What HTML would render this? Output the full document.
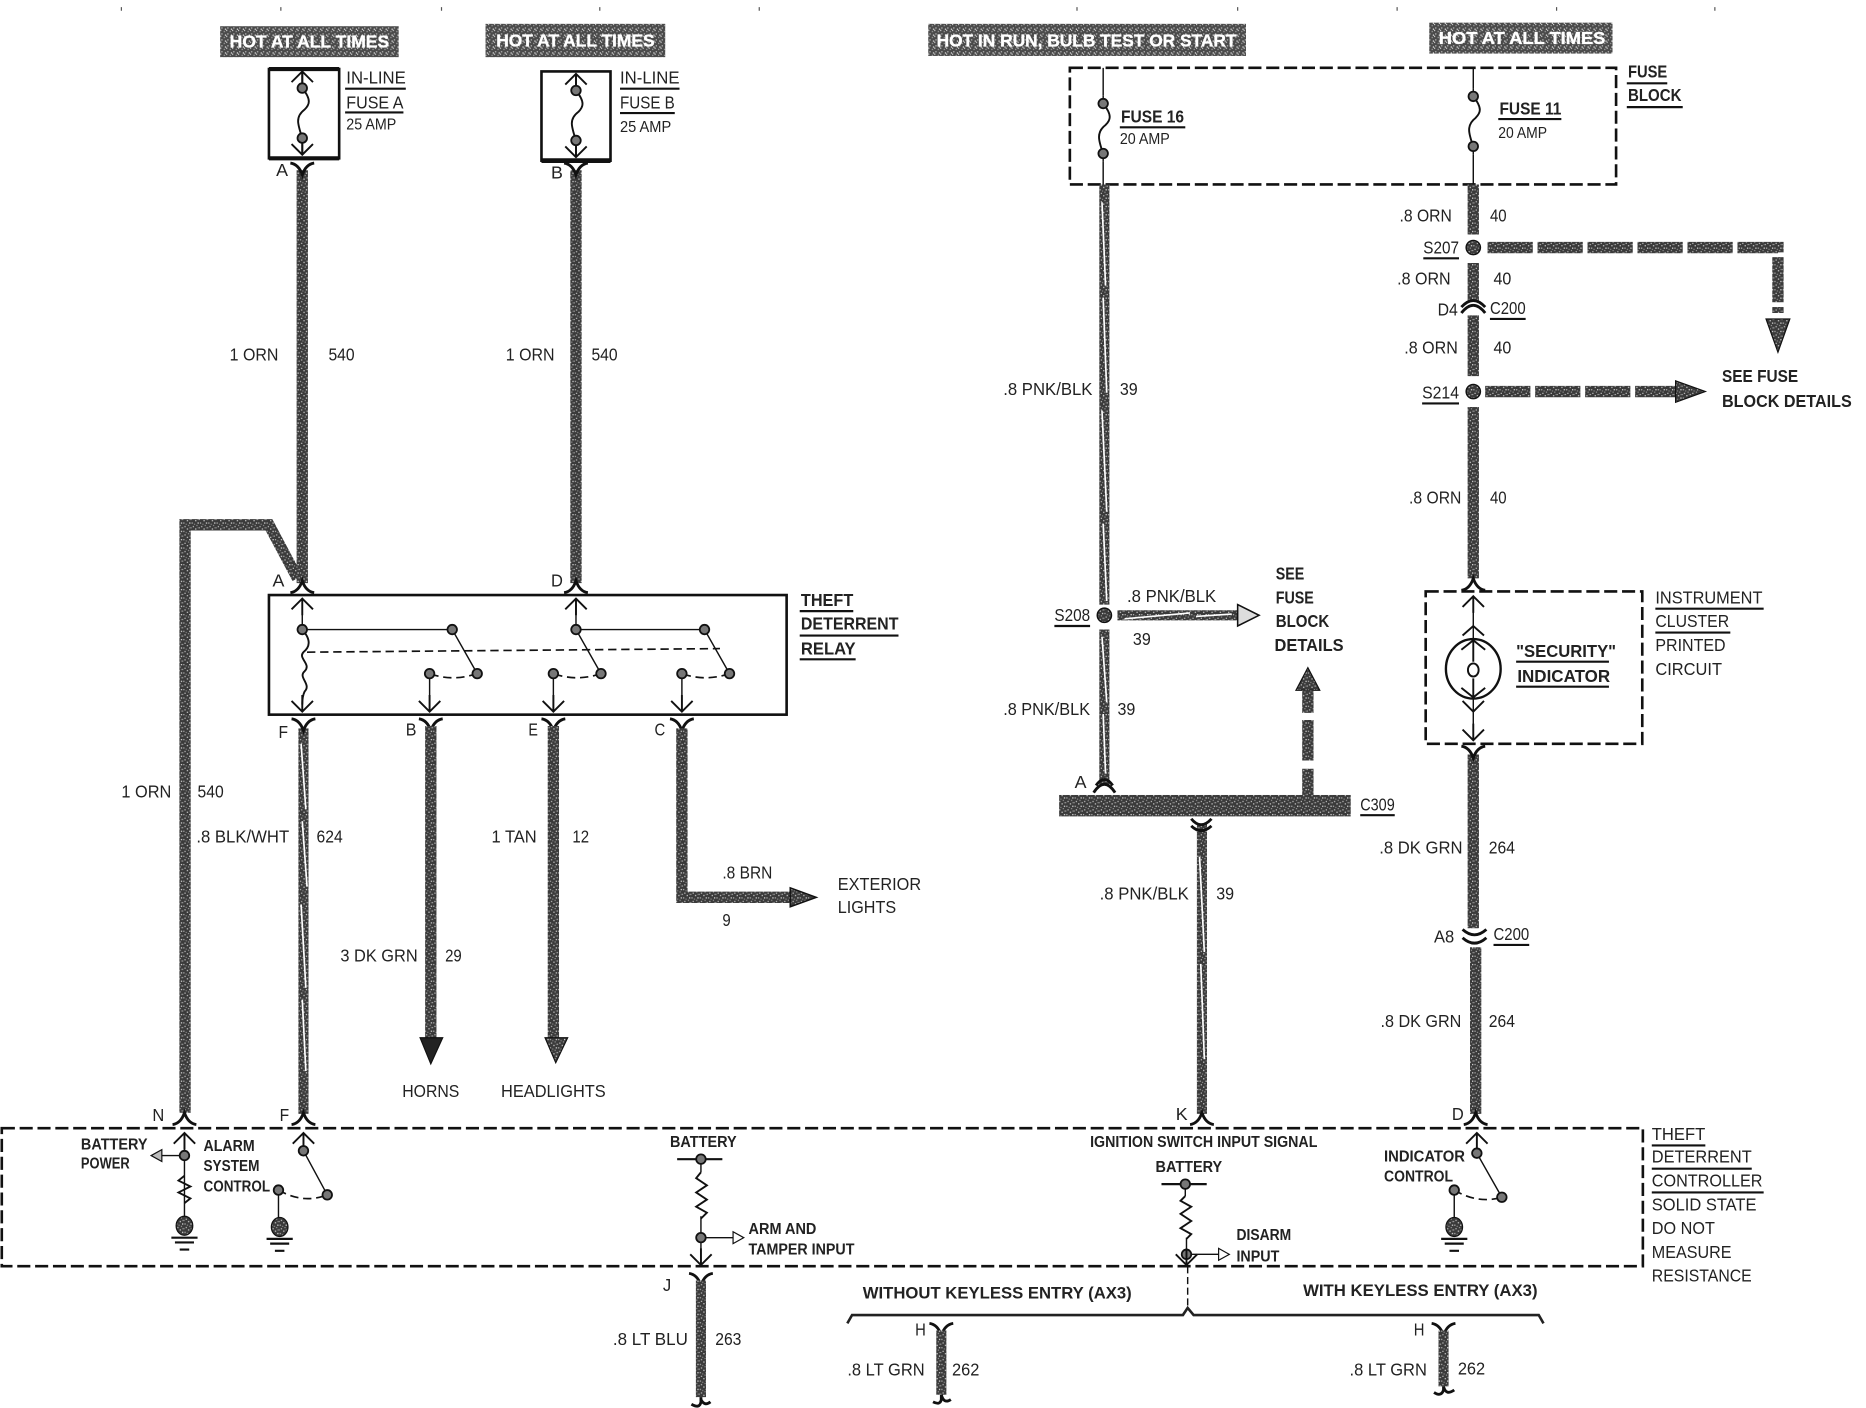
<!DOCTYPE html>
<html><head><meta charset="utf-8"><title>Theft deterrent wiring diagram</title>
<style>
html,body{margin:0;padding:0;background:#fff;width:1866px;height:1408px;overflow:hidden}
svg{display:block}
text{font-family:"Liberation Sans",sans-serif;font-size:15px;fill:#222}
.s{font-size:13px}
.b{font-weight:bold}
.h{font-weight:bold;fill:#fff;font-size:15px;stroke:#fff;stroke-width:.3px}
.w{fill:none;stroke:url(#n);stroke-width:9.500}
.sw{fill:none;stroke:url(#n);stroke-width:8.500}
.wh{fill:none;stroke:#fff;stroke-width:1.400}
.l{fill:none;stroke:#111;stroke-width:1.200}
.u{fill:none;stroke:#111;stroke-width:1.800}
.box{fill:none;stroke:#111;stroke-width:2.200}
.d{fill:none;stroke:#111;stroke-width:2.200;stroke-dasharray:11 4}
.dt{fill:none;stroke:#111;stroke-width:1.400;stroke-dasharray:7 4}
.c{fill:none;stroke:#111;stroke-width:2.400}
.a{fill:none;stroke:#111;stroke-width:1.600}
</style></head><body>
<svg xmlns="http://www.w3.org/2000/svg" width="1866" height="1408" viewBox="0 0 1568 1183.1">
<defs>
<pattern id="n" width="7" height="7" patternUnits="userSpaceOnUse">
<rect width="7" height="7" fill="#3a3a3a"/>
<rect x="1" y="1" width="1" height="1" fill="#ccc"/><rect x="4" y="0" width="1" height="1" fill="#999"/>
<rect x="3" y="3" width="1" height="1" fill="#ddd"/><rect x="6" y="2" width="1" height="1" fill="#aaa"/>
<rect x="0" y="5" width="1" height="1" fill="#bbb"/><rect x="5" y="5" width="1" height="1" fill="#eee"/>
<rect x="2" y="6" width="1" height="1" fill="#888"/><rect x="5" y="2" width="1" height="1" fill="#777"/>
</pattern>
<pattern id="hd" width="5" height="5" patternUnits="userSpaceOnUse">
<rect width="5" height="5" fill="#4a4a4a"/>
<rect x="0" y="0" width="1" height="1" fill="#ddd"/><rect x="3" y="1" width="1" height="1" fill="#aaa"/>
<rect x="1" y="3" width="1" height="1" fill="#ccc"/><rect x="4" y="4" width="1" height="1" fill="#eee"/>
</pattern>
<g id="node"><circle r="4" fill="#777" stroke="#111" stroke-width="1.500"/></g>
<g id="splice"><circle r="6" fill="url(#n)" stroke="#111" stroke-width="1.200"/></g>
<path id="yt" class="c" d="M-10,-6 Q-3,-5 0,4 Q3,-5 10,-6"/>
<path id="yb" class="c" d="M-10,6 Q-3,5 0,-4 Q3,5 10,6"/>
<path id="au" class="a" d="M-9,9 L0,0 L9,9 M0,0 V14"/>
<path id="ad" class="a" d="M-9,-9 L0,0 L9,-9 M0,0 V-14"/>
<g id="gnd"><ellipse cx="0" cy="0" rx="7" ry="8" fill="url(#n)" stroke="#111"/><path class="u" d="M-11,10 H11 M-8,14 H8 M-4,20 H4"/></g>
</defs>

<!-- registration ticks -->
<path fill="none" stroke="#555" stroke-width="1" d="M102,6V9M236,6V9M371,6V9M504,6V9M638,6V9M905,6V9M1040,6V9M1174,6V9M1308,6V9M1441,6V9"/>

<!-- header tags -->
<rect x="185" y="22" width="150" height="26" fill="url(#hd)"/>
<rect x="408" y="20" width="151" height="28" fill="url(#hd)"/>
<rect x="780" y="20" width="267" height="27" fill="url(#hd)"/>
<rect x="1201" y="19" width="154" height="26" fill="url(#hd)"/>
<text class="h" x="193" y="40" textLength="134" lengthAdjust="spacingAndGlyphs">HOT AT ALL TIMES</text>
<text class="h" x="417" y="39" textLength="133" lengthAdjust="spacingAndGlyphs">HOT AT ALL TIMES</text>
<text class="h" x="787" y="39" textLength="252" lengthAdjust="spacingAndGlyphs">HOT IN RUN, BULB TEST OR START</text>
<text class="h" x="1209" y="37" textLength="140" lengthAdjust="spacingAndGlyphs">HOT AT ALL TIMES</text>

<!-- inline fuses -->
<rect class="box" x="226" y="58" width="59" height="75"/><path d="M226,58H285M226,133H285" stroke="#111" stroke-width="3.400"/>
<rect class="box" x="455" y="60" width="58" height="75"/><path d="M455,135H513" stroke="#111" stroke-width="4"/>
<use href="#au" x="254" y="60"/><use href="#ad" x="254" y="130"/>
<use href="#au" x="484" y="62"/><use href="#ad" x="484" y="132"/>
<path class="a" d="M254,60V74C262,84 260,88 256,92C248,98 250,104 254,116V130"/>
<path class="a" d="M484,62V76C492,86 490,90 486,94C478,100 480,106 484,118V132"/>
<use href="#node" x="254" y="74"/><use href="#node" x="254" y="116"/>
<use href="#node" x="484" y="76"/><use href="#node" x="484" y="118"/>

<text x="291" y="70" textLength="50" lengthAdjust="spacingAndGlyphs">IN-LINE</text><path class="u" d="M290,74.500H341"/>
<text x="291" y="91" textLength="48" lengthAdjust="spacingAndGlyphs">FUSE A</text><path class="u" d="M290,94.500H339"/>
<text class="s" x="291" y="109" textLength="42" lengthAdjust="spacingAndGlyphs">25 AMP</text>
<text x="521" y="70" textLength="50" lengthAdjust="spacingAndGlyphs">IN-LINE</text><path class="u" d="M521,74.500H571"/>
<text x="521" y="91" textLength="46" lengthAdjust="spacingAndGlyphs">FUSE B</text><path class="u" d="M521,95H567"/>
<text class="s" x="521" y="111" textLength="43" lengthAdjust="spacingAndGlyphs">25 AMP</text>

<!-- main feeds -->
<path class="w" d="M254,143V490M484,143V490"/>
<use href="#yt" x="254" y="143"/><use href="#yt" x="484" y="143"/>
<path class="w" d="M250,486L226,441H155.500V935"/>
<use href="#yb" x="254" y="492"/><use href="#yb" x="484" y="492"/>
<text x="232" y="148" textLength="10" lengthAdjust="spacingAndGlyphs">A</text>
<text x="463" y="150" textLength="10" lengthAdjust="spacingAndGlyphs">B</text>
<text x="193" y="303" textLength="41" lengthAdjust="spacingAndGlyphs">1 ORN</text><text x="276" y="303" textLength="22" lengthAdjust="spacingAndGlyphs">540</text>
<text x="425" y="303" textLength="41" lengthAdjust="spacingAndGlyphs">1 ORN</text><text x="497" y="303" textLength="22" lengthAdjust="spacingAndGlyphs">540</text>
<text x="229" y="493" textLength="10" lengthAdjust="spacingAndGlyphs">A</text>
<text x="463" y="493" textLength="10" lengthAdjust="spacingAndGlyphs">D</text>

<!-- relay -->
<rect class="box" x="226" y="500" width="435" height="100.500"/>
<use href="#au" x="254" y="503"/><use href="#au" x="484" y="503"/>
<path class="l" d="M254,503V529H380L401,566M484,503V529H592L613,566M484,529L505,566"/>
<path class="a" d="M254,529C262,538 260,544 255,548C250,553 262,558 256,564C250,569 262,575 256,581C254,585 254,590 254,592"/>
<path class="dt" stroke-width="2" d="M258,548L605,545"/>
<path class="dt" d="M401,566Q380,573 361,566M505,566Q485,573 465,566M613,566Q593,573 573,566"/>
<path class="l" d="M361,566V598M465,566V598M573,566V598"/>
<use href="#node" x="254" y="529"/><use href="#node" x="380" y="529"/><use href="#node" x="484" y="529"/><use href="#node" x="592" y="529"/>
<use href="#node" x="401" y="566"/><use href="#node" x="361" y="566"/><use href="#node" x="505" y="566"/><use href="#node" x="465" y="566"/><use href="#node" x="613" y="566"/><use href="#node" x="573" y="566"/>
<use href="#ad" x="254" y="598"/><use href="#ad" x="361" y="598"/><use href="#ad" x="465" y="598"/><use href="#ad" x="573" y="598"/>
<text class="b" x="673" y="509" textLength="44" lengthAdjust="spacingAndGlyphs">THEFT</text><path class="u" d="M672,513.500H717"/>
<text class="b" x="673" y="529" textLength="82" lengthAdjust="spacingAndGlyphs">DETERRENT</text><path class="u" d="M672,534H755"/>
<text class="b" x="673" y="550" textLength="46" lengthAdjust="spacingAndGlyphs">RELAY</text><path class="u" d="M672,554H719"/>

<!-- relay outputs -->
<path class="sw" d="M255,612V936"/>
<path class="wh" d="M253,625L257,680M254,690L258,745M253,760L257,830M254,840L257,900"/>
<use href="#yt" x="255" y="610"/><use href="#yt" x="362" y="610"/><use href="#yt" x="465" y="610"/><use href="#yt" x="573" y="610"/>
<path class="w" d="M362,610V874M465,610V874"/>
<path d="M353,872H372L362,894Z" fill="#222" stroke="#111"/>
<path d="M458,872H477L467,893Z" fill="url(#n)" stroke="#111"/>
<path class="w" d="M573,612V754H664"/>
<path d="M664,746L686,754L664,762Z" fill="url(#n)" stroke="#111" stroke-width="1.200"/>
<text x="234" y="620" textLength="8" lengthAdjust="spacingAndGlyphs">F</text>
<text x="341" y="618" textLength="9" lengthAdjust="spacingAndGlyphs">B</text>
<text x="444" y="618" textLength="8" lengthAdjust="spacingAndGlyphs">E</text>
<text x="550" y="618" textLength="9" lengthAdjust="spacingAndGlyphs">C</text>
<text x="102" y="670" textLength="42" lengthAdjust="spacingAndGlyphs">1 ORN</text><text x="166" y="670" textLength="22" lengthAdjust="spacingAndGlyphs">540</text>
<text x="165" y="708" textLength="78" lengthAdjust="spacingAndGlyphs">.8 BLK/WHT</text><text x="266" y="708" textLength="22" lengthAdjust="spacingAndGlyphs">624</text>
<text x="286" y="808" textLength="65" lengthAdjust="spacingAndGlyphs">3 DK GRN</text><text x="374" y="808" textLength="14" lengthAdjust="spacingAndGlyphs">29</text>
<text x="413" y="708" textLength="38" lengthAdjust="spacingAndGlyphs">1 TAN</text><text x="481" y="708" textLength="14" lengthAdjust="spacingAndGlyphs">12</text>
<text x="607" y="738" textLength="42" lengthAdjust="spacingAndGlyphs">.8 BRN</text><text x="607" y="778" textLength="7" lengthAdjust="spacingAndGlyphs">9</text>
<text x="704" y="748" textLength="70" lengthAdjust="spacingAndGlyphs">EXTERIOR</text><text x="704" y="767" textLength="49" lengthAdjust="spacingAndGlyphs">LIGHTS</text>
<text x="338" y="922" textLength="48" lengthAdjust="spacingAndGlyphs">HORNS</text>
<text x="421" y="922" textLength="88" lengthAdjust="spacingAndGlyphs">HEADLIGHTS</text>

<!-- fuse block -->
<rect class="d" x="899" y="57" width="459" height="98"/>
<path class="l" d="M927,57V155M1238,57V155"/>
<path d="M920,80H934V136H920ZM1231,74H1245V130H1231Z" fill="#fff"/>
<path class="a" d="M927,87C935,97 933,101 929,105C921,111 923,118 927,129"/>
<path class="a" d="M1238,81C1246,91 1244,95 1240,99C1232,105 1234,112 1238,123"/>
<path class="l" d="M927,80V87M927,129V136M1238,74V81M1238,123V130"/>
<use href="#node" x="927" y="87"/><use href="#node" x="927" y="129"/><use href="#node" x="1238" y="81"/><use href="#node" x="1238" y="123"/>
<text class="b" x="942" y="103" textLength="53" lengthAdjust="spacingAndGlyphs">FUSE 16</text><path class="u" d="M941,107H996"/>
<text class="s" x="941" y="121" textLength="42" lengthAdjust="spacingAndGlyphs">20 AMP</text>
<text class="b" x="1260" y="96" textLength="52" lengthAdjust="spacingAndGlyphs">FUSE 11</text><path class="u" d="M1259,100H1312"/>
<text class="s" x="1259" y="116" textLength="41" lengthAdjust="spacingAndGlyphs">20 AMP</text>
<text class="b" x="1368" y="65" textLength="33" lengthAdjust="spacingAndGlyphs">FUSE</text><path class="u" d="M1367,70H1401"/>
<text class="b" x="1368" y="85" textLength="45" lengthAdjust="spacingAndGlyphs">BLOCK</text><path class="u" d="M1367,90H1414"/>

<!-- PNK/BLK feed -->
<path class="sw" d="M928,155V508M928,529V660"/>
<path class="wh" d="M926,170L929,240M927,250L930,330M926,345L930,430M927,440L930,505M926,535L930,590M927,600L929,650"/>
<use href="#splice" x="928" y="517"/>
<text x="843" y="332" textLength="75" lengthAdjust="spacingAndGlyphs">.8 PNK/BLK</text><text x="941" y="332" textLength="15" lengthAdjust="spacingAndGlyphs">39</text>
<text x="886" y="522" textLength="30" lengthAdjust="spacingAndGlyphs">S208</text><path class="u" d="M886,526H916"/>
<text x="947" y="506" textLength="75" lengthAdjust="spacingAndGlyphs">.8 PNK/BLK</text><text x="952" y="542" textLength="15" lengthAdjust="spacingAndGlyphs">39</text>
<path class="sw" d="M939,517H1040"/><path class="wh" d="M945,520L1000,515M1005,518L1035,516"/>
<path d="M1040,508L1058,517L1040,526Z" fill="#ddd" stroke="#111" stroke-width="1.300"/>
<text class="b" x="1072" y="487" textLength="24" lengthAdjust="spacingAndGlyphs">SEE</text>
<text class="b" x="1072" y="507" textLength="32" lengthAdjust="spacingAndGlyphs">FUSE</text>
<text class="b" x="1072" y="527" textLength="45" lengthAdjust="spacingAndGlyphs">BLOCK</text>
<text class="b" x="1071" y="547" textLength="58" lengthAdjust="spacingAndGlyphs">DETAILS</text>
<text x="843" y="601" textLength="73" lengthAdjust="spacingAndGlyphs">.8 PNK/BLK</text><text x="939" y="601" textLength="15" lengthAdjust="spacingAndGlyphs">39</text>
<path d="M1099,561L1109,580H1089Z" fill="url(#n)" stroke="#111"/>
<path class="w" d="M1099,580V599M1099,605V639M1099,646V668"/>
<rect x="890" y="668" width="245" height="18" fill="url(#n)"/>
<path class="c" d="M919,666Q928,652 937,666M921,660Q928,650 935,660"/>
<text x="903" y="662" textLength="10" lengthAdjust="spacingAndGlyphs">A</text>
<text x="1143" y="681" textLength="29" lengthAdjust="spacingAndGlyphs">C309</text><path class="u" d="M1143,685H1172"/>
<path class="sw" d="M1010,692V936"/>
<path class="wh" d="M1008,720L1012,800M1009,810L1012,890"/>
<path class="c" d="M1001,688Q1009,698 1018,688M1001,694Q1009,702 1018,694"/>
<use href="#yb" x="1010" y="939"/>
<text x="988" y="941" textLength="10" lengthAdjust="spacingAndGlyphs">K</text>
<text x="924" y="756" textLength="75" lengthAdjust="spacingAndGlyphs">.8 PNK/BLK</text><text x="1022" y="756" textLength="15" lengthAdjust="spacingAndGlyphs">39</text>

<!-- ORN feed -->
<path class="w" d="M1238,155V197M1238,221V253M1238,265V316M1238,342V486"/>
<use href="#splice" x="1238" y="208"/><use href="#splice" x="1238" y="329"/>
<path class="c" d="M1228,263Q1238,250 1248,263M1228,258Q1238,247 1248,258"/>
<use href="#yb" x="1238" y="490"/>
<text x="1176" y="186" textLength="44" lengthAdjust="spacingAndGlyphs">.8 ORN</text><text x="1252" y="186" textLength="14" lengthAdjust="spacingAndGlyphs">40</text>
<text x="1196" y="213" textLength="30" lengthAdjust="spacingAndGlyphs">S207</text><path class="u" d="M1196,217H1226"/>
<text x="1174" y="239" textLength="45" lengthAdjust="spacingAndGlyphs">.8 ORN</text><text x="1255" y="239" textLength="15" lengthAdjust="spacingAndGlyphs">40</text>
<text x="1208" y="265" textLength="17" lengthAdjust="spacingAndGlyphs">D4</text>
<text x="1252" y="264" textLength="30" lengthAdjust="spacingAndGlyphs">C200</text><path class="u" d="M1252,268H1282"/>
<text x="1180" y="297" textLength="45" lengthAdjust="spacingAndGlyphs">.8 ORN</text><text x="1255" y="297" textLength="15" lengthAdjust="spacingAndGlyphs">40</text>
<text x="1195" y="335" textLength="31" lengthAdjust="spacingAndGlyphs">S214</text><path class="u" d="M1195,339H1226"/>
<text x="1184" y="423" textLength="44" lengthAdjust="spacingAndGlyphs">.8 ORN</text><text x="1252" y="423" textLength="14" lengthAdjust="spacingAndGlyphs">40</text>
<path class="w" stroke-dasharray="38 4" d="M1250,208H1494V263"/>
<path d="M1484,268H1504L1494,296Z" fill="url(#n)" stroke="#111"/>
<path class="w" stroke-dasharray="38 4" d="M1248,329H1408"/>
<path d="M1408,320L1433,329L1408,338Z" fill="url(#n)" stroke="#111"/>
<text class="b" x="1447" y="321" textLength="64" lengthAdjust="spacingAndGlyphs">SEE FUSE</text>
<text class="b" x="1447" y="342" textLength="109" lengthAdjust="spacingAndGlyphs">BLOCK DETAILS</text>

<!-- instrument cluster -->
<rect class="d" x="1198" y="497" width="182" height="128"/>
<use href="#au" x="1238" y="501"/><use href="#ad" x="1238" y="622"/>
<path class="l" d="M1238,501V622"/>
<path class="a" d="M1229,534L1238,526L1247,534M1229,589L1238,598L1247,589"/>
<ellipse cx="1238" cy="562" rx="23" ry="25" fill="#fff" stroke="#111" stroke-width="2"/>
<path class="a" d="M1238,538V556M1238,570V586M1228,546L1238,538L1248,546M1228,578L1238,586L1248,578"/>
<ellipse cx="1238" cy="563" rx="4.500" ry="5.500" fill="none" stroke="#111" stroke-width="1.600"/>
<text class="b" x="1274" y="552" textLength="84" lengthAdjust="spacingAndGlyphs">"SECURITY"</text><path class="u" d="M1274,556H1352"/>
<text class="b" x="1275" y="573" textLength="78" lengthAdjust="spacingAndGlyphs">INDICATOR</text><path class="u" d="M1274,577H1352"/>
<text x="1391" y="507" textLength="90" lengthAdjust="spacingAndGlyphs">INSTRUMENT</text><path class="u" d="M1391,511.500H1482"/>
<text x="1391" y="527" textLength="62" lengthAdjust="spacingAndGlyphs">CLUSTER</text><path class="u" d="M1391,531.500H1454"/>
<text x="1391" y="547" textLength="59" lengthAdjust="spacingAndGlyphs">PRINTED</text>
<text x="1391" y="567" textLength="56" lengthAdjust="spacingAndGlyphs">CIRCUIT</text>

<!-- DK GRN -->
<path class="w" d="M1238,634V780M1240,796V936"/>
<use href="#yt" x="1238" y="633"/>
<path class="c" d="M1229,781Q1239,790 1249,781M1229,788Q1239,797 1249,788"/>
<use href="#yb" x="1240" y="939"/>
<text x="1159" y="717" textLength="70" lengthAdjust="spacingAndGlyphs">.8 DK GRN</text><text x="1251" y="717" textLength="22" lengthAdjust="spacingAndGlyphs">264</text>
<text x="1205" y="792" textLength="17" lengthAdjust="spacingAndGlyphs">A8</text>
<text x="1255" y="790" textLength="30" lengthAdjust="spacingAndGlyphs">C200</text><path class="u" d="M1255,794H1285"/>
<text x="1160" y="863" textLength="68" lengthAdjust="spacingAndGlyphs">.8 DK GRN</text><text x="1251" y="863" textLength="22" lengthAdjust="spacingAndGlyphs">264</text>
<text x="1220" y="941" textLength="10" lengthAdjust="spacingAndGlyphs">D</text>

<!-- controller -->
<use href="#yb" x="155" y="939"/><use href="#yb" x="255" y="939"/>
<text x="128" y="942" textLength="10" lengthAdjust="spacingAndGlyphs">N</text>
<text x="235" y="942" textLength="8" lengthAdjust="spacingAndGlyphs">F</text>
<rect class="d" x="1.500" y="948" width="1379" height="116"/>

<use href="#au" x="155" y="952"/><use href="#au" x="255" y="952"/><use href="#au" x="1241" y="952"/>
<path class="l" d="M155,952V1025M128,971H155"/>
<path d="M127,971L136,966V976Z" fill="#bbb" stroke="#111"/>
<use href="#node" x="155" y="971"/>
<path class="a" d="M155,988L150,992L160,997L150,1002L160,1007L155,1011"/>
<use href="#gnd" x="155" y="1030"/>
<path class="l" d="M255,952V967L275,1004M234,1000V1025"/>
<path class="dt" d="M234,1000Q255,1012 275,1004"/>
<use href="#node" x="255" y="967"/><use href="#node" x="275" y="1004"/><use href="#node" x="234" y="1000"/>
<use href="#gnd" x="235" y="1031"/>
<text class="s b" x="68" y="966" textLength="56" lengthAdjust="spacingAndGlyphs">BATTERY</text>
<text class="s b" x="68" y="982" textLength="41" lengthAdjust="spacingAndGlyphs">POWER</text>
<text class="s b" x="171" y="967" textLength="43" lengthAdjust="spacingAndGlyphs">ALARM</text>
<text class="s b" x="171" y="984" textLength="47" lengthAdjust="spacingAndGlyphs">SYSTEM</text>
<text class="s b" x="171" y="1001" textLength="56" lengthAdjust="spacingAndGlyphs">CONTROL</text>

<text class="s b" x="563" y="964" textLength="56" lengthAdjust="spacingAndGlyphs">BATTERY</text>
<path class="u" d="M569,974H607"/>
<path class="l" d="M589,974V985M589,1022V1062M589,1040H618"/>
<path class="a" d="M589,985L585,990L594,996L585,1002L594,1008L585,1014L594,1019L589,1024"/>
<path d="M625,1040L616,1035V1045Z" fill="#fff" stroke="#111"/>
<use href="#node" x="589" y="974"/><use href="#node" x="589" y="1040"/><use href="#ad" x="589" y="1063"/>
<text class="s b" x="629" y="1037" textLength="57" lengthAdjust="spacingAndGlyphs">ARM AND</text>
<text class="s b" x="629" y="1054" textLength="89" lengthAdjust="spacingAndGlyphs">TAMPER INPUT</text>

<text class="s b" x="916" y="964" textLength="191" lengthAdjust="spacingAndGlyphs">IGNITION SWITCH INPUT SIGNAL</text>
<text class="s b" x="971" y="985" textLength="56" lengthAdjust="spacingAndGlyphs">BATTERY</text>
<path class="u" d="M976,995H1014"/>
<path class="l" d="M996,995V1005M997,1040V1062M997,1054H1026"/>
<path class="a" d="M996,1005L992,1009L1001,1014L992,1020L1001,1026L992,1032L1001,1037L997,1041"/>
<path d="M1033,1054L1024,1049V1059Z" fill="#fff" stroke="#111"/>
<use href="#node" x="996" y="995"/><use href="#node" x="997" y="1054"/><use href="#ad" x="997" y="1063"/>
<text class="s b" x="1039" y="1042" textLength="46" lengthAdjust="spacingAndGlyphs">DISARM</text>
<text class="s b" x="1039" y="1060" textLength="36" lengthAdjust="spacingAndGlyphs">INPUT</text>

<path class="l" d="M1241,952V969L1262,1006M1222,1000V1025"/>
<path class="dt" d="M1222,1000Q1242,1012 1262,1006"/>
<use href="#node" x="1241" y="969"/><use href="#node" x="1262" y="1006"/><use href="#node" x="1222" y="1000"/>
<use href="#gnd" x="1222" y="1031"/>
<text class="s b" x="1163" y="976" textLength="68" lengthAdjust="spacingAndGlyphs">INDICATOR</text>
<text class="s b" x="1163" y="993" textLength="58" lengthAdjust="spacingAndGlyphs">CONTROL</text>

<text x="1388" y="958" textLength="45" lengthAdjust="spacingAndGlyphs">THEFT</text><path class="u" d="M1388,962.500H1433"/>
<text x="1388" y="977" textLength="84" lengthAdjust="spacingAndGlyphs">DETERRENT</text><path class="u" d="M1388,982H1472"/>
<text x="1388" y="997" textLength="93" lengthAdjust="spacingAndGlyphs">CONTROLLER</text><path class="u" d="M1388,1002H1482"/>
<text x="1388" y="1017" textLength="88" lengthAdjust="spacingAndGlyphs">SOLID STATE</text>
<text x="1388" y="1037" textLength="53" lengthAdjust="spacingAndGlyphs">DO NOT</text>
<text x="1388" y="1057" textLength="67" lengthAdjust="spacingAndGlyphs">MEASURE</text>
<text x="1388" y="1077" textLength="84" lengthAdjust="spacingAndGlyphs">RESISTANCE</text>

<!-- bottom -->
<use href="#yt" x="589" y="1076"/>
<path class="sw" d="M589,1076V1174"/>
<path class="c" d="M589,1174V1178Q588,1184 581,1180M589,1176Q592,1182 597,1178"/>
<text x="557" y="1085" textLength="7" lengthAdjust="spacingAndGlyphs">J</text>
<text x="515" y="1130" textLength="63" lengthAdjust="spacingAndGlyphs">.8 LT BLU</text><text x="601" y="1130" textLength="22" lengthAdjust="spacingAndGlyphs">263</text>

<path class="l" stroke-dasharray="6 3" d="M998,1064V1100"/>
<path fill="none" stroke="#222" stroke-width="2.200" d="M712,1112L716,1105H994L998,1099L1003,1105H1293L1297,1112"/>
<text class="s b" x="725" y="1091" textLength="226" lengthAdjust="spacingAndGlyphs" style="font-size:14px">WITHOUT KEYLESS ENTRY (AX3)</text>
<text class="s b" x="1095" y="1089" textLength="197" lengthAdjust="spacingAndGlyphs" style="font-size:14px">WITH KEYLESS ENTRY (AX3)</text>
<use href="#yt" x="791" y="1118"/><use href="#yt" x="1213" y="1118"/>
<path class="sw" d="M791,1118V1172M1213,1118V1165"/>
<path class="c" d="M791,1172V1176Q790,1181 784,1178M791,1172Q793,1180 799,1176M1213,1165V1168Q1211,1174 1205,1170M1213,1165Q1215,1173 1222,1168"/>
<text x="769" y="1122" textLength="9" lengthAdjust="spacingAndGlyphs">H</text>
<text x="1188" y="1122" textLength="9" lengthAdjust="spacingAndGlyphs">H</text>
<text x="712" y="1156" textLength="65" lengthAdjust="spacingAndGlyphs">.8 LT GRN</text><text x="800" y="1156" textLength="23" lengthAdjust="spacingAndGlyphs">262</text>
<text x="1134" y="1156" textLength="65" lengthAdjust="spacingAndGlyphs">.8 LT GRN</text><text x="1225" y="1155" textLength="23" lengthAdjust="spacingAndGlyphs">262</text>
</svg>
</body></html>
